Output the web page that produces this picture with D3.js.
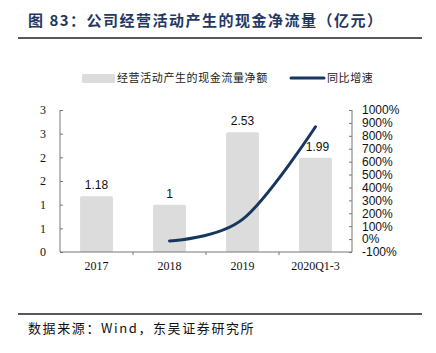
<!DOCTYPE html>
<html>
<head>
<meta charset="utf-8">
<script src="https://cdn.jsdelivr.net/npm/d3@7"></script>
<style>
  body { margin: 0; background: #fff; }
  svg { display: block; }
</style>
</head>
<body>
<svg id="chart"></svg>
<script>
// data
const categories = ["2017", "2018", "2019", "2020Q1-3"];
const cashFlow = [1.18, 1, 2.53, 1.99];           // 亿元
const growthCats = ["2018", "2019", "2020Q1-3"];
const growth = [-15, 153, 870];                     // 同比增速, %
const leftTicks = [0, 0.5, 1, 1.5, 2, 2.5, 3];
const leftTickLabels = ["0", "1", "1", "2", "2", "3", "3"];
const rightTicks = [-100, 0, 100, 200, 300, 400, 500, 600, 700, 800, 900, 1000];

const width = 436;
const height = 353;
const plot = { left: 60, right: 352, top: 110, bottom: 252 };

const svg = d3.select("#chart").attr("width", width).attr("height", height);

// title + rules
svg.append("text")
    .attr("x", 28).attr("y", 26)
    .attr("fill", "#1f3864")
    .attr("font-family", "'Noto Sans CJK SC', sans-serif")
    .attr("font-weight", "bold")
    .attr("font-size", 15)
    .attr("letter-spacing", 1.5)
    .text("图 83：公司经营活动产生的现金净流量（亿元）");

svg.append("line")
    .attr("x1", 18).attr("x2", 422).attr("y1", 38).attr("y2", 38)
    .attr("stroke", "#222").attr("stroke-width", 1.5);

svg.append("line")
    .attr("x1", 18).attr("x2", 422).attr("y1", 314).attr("y2", 314)
    .attr("stroke", "#222").attr("stroke-width", 1.5);

svg.append("text")
    .attr("x", 28).attr("y", 333)
    .attr("fill", "#111")
    .attr("font-family", "'Noto Sans CJK SC', serif")
    .attr("font-size", 13)
    .attr("letter-spacing", 1.6)
    .text("数据来源：Wind，东吴证券研究所");

// scales
const x = d3.scaleBand().domain(categories).range([plot.left, plot.right]).paddingInner(0.55).paddingOuter(0.275);
const xc = d => x(d) + x.bandwidth() / 2;
const y = d3.scaleLinear().domain([0, 3]).range([plot.bottom, plot.top]);
const y2 = d3.scaleLinear().domain([-100, 1000]).range([plot.bottom, plot.top]);

const g = svg.append("g");

// bars
g.selectAll("rect.bar")
    .data(cashFlow)
    .join("rect")
    .attr("class", "bar")
    .attr("x", (d, i) => x(categories[i]))
    .attr("width", x.bandwidth())
    .attr("y", d => y(d))
    .attr("height", d => y(0) - y(d))
    .attr("rx", 1.5)
    .attr("fill", "#dcdcdc");

// value labels
g.selectAll("text.val")
    .data(cashFlow)
    .join("text")
    .attr("class", "val")
    .attr("x", (d, i) => xc(categories[i]) + (i === 3 ? 2 : 0))
    .attr("y", d => y(d) - 7)
    .attr("text-anchor", "middle")
    .attr("font-family", "'Liberation Sans', Arial, sans-serif")
    .attr("font-size", 12)
    .attr("fill", "#111")
    .text(d => d);

// axes
const axisColor = "#777";
const leftAxis = g.append("g")
    .attr("transform", `translate(${plot.left},0)`)
    .call(d3.axisRight(y).tickValues(leftTicks).tickSize(3)
        .tickFormat((d, i) => leftTickLabels[i]));
leftAxis.select(".domain").attr("stroke", axisColor).attr("d", `M0,${plot.top}V${plot.bottom}`);
leftAxis.selectAll(".tick line").attr("stroke", axisColor);
leftAxis.selectAll(".tick text")
    .attr("x", -14).attr("text-anchor", "end")
    .attr("font-family", "'Liberation Serif', 'Times New Roman', serif")
    .attr("font-size", 12).attr("fill", "#111");

const rightAxis = g.append("g")
    .attr("transform", `translate(${plot.right},0)`)
    .call(d3.axisLeft(y2).tickValues(rightTicks).tickSize(3)
        .tickFormat(d => d + "%"));
rightAxis.select(".domain").attr("stroke", axisColor).attr("d", `M0,${plot.top}V${plot.bottom}`);
rightAxis.selectAll(".tick line").attr("stroke", axisColor);
rightAxis.selectAll(".tick text")
    .attr("x", 10).attr("text-anchor", "start")
    .attr("font-family", "'Liberation Sans', Arial, sans-serif")
    .attr("font-size", 12).attr("fill", "#111");

const bottomAxis = g.append("g")
    .attr("transform", `translate(0,${plot.bottom})`)
    .call(d3.axisBottom(x).tickSize(0).tickPadding(9));
bottomAxis.select(".domain").attr("stroke", axisColor).attr("d", `M${plot.left},0H${plot.right}`);
bottomAxis.selectAll(".tick text")
    .attr("font-family", "'Liberation Serif', 'Times New Roman', serif")
    .attr("font-size", 12).attr("fill", "#111");
// small marks between categories
bottomAxis.selectAll("line.sep")
    .data(categories.slice(1))
    .join("line")
    .attr("class", "sep")
    .attr("x1", d => x(d) - x.step() * x.paddingInner() / 2)
    .attr("x2", d => x(d) - x.step() * x.paddingInner() / 2)
    .attr("y1", 0).attr("y2", 3)
    .attr("stroke", axisColor);

// growth line
const line = d3.line()
    .x((d, i) => xc(growthCats[i]))
    .y(d => y2(d))
    .curve(d3.curveCardinal.tension(0));

g.append("path")
    .datum(growth)
    .attr("fill", "none")
    .attr("stroke", "#17375e")
    .attr("stroke-width", 3)
    .attr("stroke-linecap", "round")
    .attr("d", line);

// legend
const legend = svg.append("g").attr("font-family", "'Noto Sans CJK SC', sans-serif")
    .attr("font-size", 11).attr("fill", "#222");
legend.append("rect")
    .attr("x", 82).attr("y", 74).attr("width", 33).attr("height", 9)
    .attr("rx", 1.5).attr("fill", "#dcdcdc");
legend.append("text").attr("x", 117).attr("y", 82).attr("letter-spacing", 0.6).text("经营活动产生的现金流量净额");
legend.append("line")
    .attr("x1", 291).attr("x2", 324).attr("y1", 78).attr("y2", 78)
    .attr("stroke", "#17375e").attr("stroke-width", 3).attr("stroke-linecap", "round");
legend.append("text").attr("x", 327).attr("y", 82).attr("letter-spacing", 0.6).text("同比增速");
</script>
</body>
</html>
